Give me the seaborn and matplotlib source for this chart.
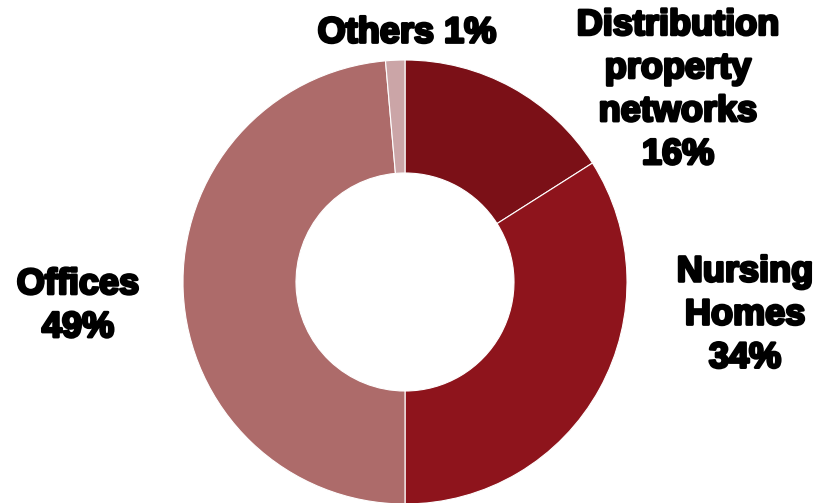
import matplotlib
matplotlib.use("Agg")
import matplotlib.pyplot as plt
import matplotlib.patheffects as pe
import seaborn as sns

# portfolio split, clockwise from 12 o'clock (labels are rounded)
segments = ["Distribution\nproperty\nnetworks", "Nursing\nHomes", "Offices", "Others"]
shares = [16.0, 34.0, 48.6, 1.4]
colors = ["#7B1017", "#8E141C", "#AD6B6A", "#CBA5A7"]

sns.set_theme(style="white")
plt.rcParams["font.family"] = ["Liberation Sans", "DejaVu Sans"]

W, H = 817, 503
fig = plt.figure(figsize=(W / 100, H / 100), dpi=100)
ax = fig.add_axes([0, 0, 1, 1])

ax.pie(shares, colors=colors, startangle=90, counterclock=False,
       center=(405, H - 282), radius=222,
       wedgeprops=dict(width=113, edgecolor="white", linewidth=0.8))

# label placement in pixel coords (x, y from top)
label_pos = {
    "Distribution\nproperty\nnetworks": (678, 90),
    "Nursing\nHomes": (745, 315),
    "Offices": (78, 306),
    "Others": (407, 33),
}
for name, val in zip(segments, shares):
    x, y = label_pos[name]
    pct = f"{round(val):d}%"
    txt = f"{name} {pct}" if name == "Others" else f"{name}\n{pct}"
    ax.text(x, H - y, txt, ha="center", va="center", fontsize=26,
            fontweight="bold", color="black", linespacing=1.3,
            path_effects=[pe.withStroke(linewidth=2.0, foreground="black")])

ax.set_xlim(0, W)
ax.set_ylim(0, H)
ax.set_aspect("equal")
ax.axis("off")

fig.savefig("out.png", dpi=100)
